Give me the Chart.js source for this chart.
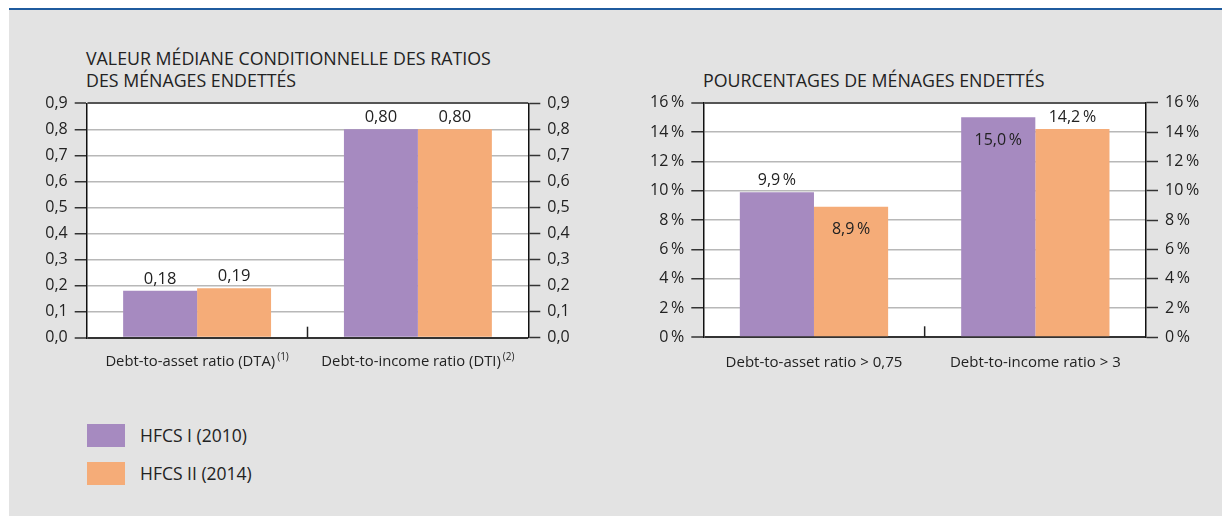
<!DOCTYPE html>
<html><head><meta charset="utf-8">
<script src="https://cdn.jsdelivr.net/npm/chart.js@4/dist/chart.umd.min.js"></script>
<style>
html,body{margin:0;padding:0;background:#fff;width:1222px;height:516px;overflow:hidden;font-family:"Open Sans",sans-serif;color:#222}
#panel{position:absolute;left:9px;top:10px;width:1213px;height:506px;background:#e3e3e3}
#topline{position:absolute;left:9px;top:8px;width:1213px;height:2px;background:#1f5b9e}
.title{position:absolute;font-size:17.8px;line-height:21.5px;color:#222;white-space:nowrap}
#c1{position:absolute;left:0;top:80px;width:610px;height:320px}
#c2{position:absolute;left:610px;top:80px;width:612px;height:320px}
.sw{position:absolute;left:87px;width:38px;height:23px}
.lg{position:absolute;left:140px;font-size:17.5px;line-height:23px;color:#222;white-space:nowrap}
</style></head>
<body>
<div id="panel"></div>
<div id="topline"></div>
<div class="title" style="left:86px;top:48px">VALEUR MÉDIANE CONDITIONNELLE DES RATIOS<br>DES MÉNAGES ENDETTÉS</div>
<div class="title" style="left:703px;top:70px">POURCENTAGES DE MÉNAGES ENDETTÉS</div>
<canvas id="c1" width="610" height="320"></canvas>
<canvas id="c2" width="612" height="320"></canvas>
<div class="sw" id="sw1" style="top:424px"></div>
<div class="lg" id="lg1" style="top:424px"></div>
<div class="sw" id="sw2" style="top:462px"></div>
<div class="lg" id="lg2" style="top:462px"></div>
<script>
// ---- data ----
const seriesNames = ['HFCS I (2010)', 'HFCS II (2014)'];
const leftCategories = ['Debt-to-asset ratio (DTA)', 'Debt-to-income ratio (DTI)'];
const leftNotes = ['(1)', '(2)'];
const leftHFCS1 = [0.18, 0.80];
const leftHFCS2 = [0.19, 0.80];
const rightCategories = ['Debt-to-asset ratio > 0,75', 'Debt-to-income ratio > 3'];
const rightNotes = ['', ''];
const rightHFCS1 = [9.9, 15.0];
const rightHFCS2 = [8.9, 14.2];
const leftAxis = {min: 0, max: 0.9, step: 0.1};
const rightAxis = {min: 0, max: 16, step: 2};

const COL1 = '#a68ac0', COL2 = '#f5ac78';
const FONT = '"Open Sans", sans-serif';

document.getElementById('sw1').style.background = COL1;
document.getElementById('sw2').style.background = COL2;
document.getElementById('lg1').textContent = seriesNames[0];
document.getElementById('lg2').textContent = seriesNames[1];

const plotBg = {
  id: 'plotBg',
  beforeDraw(chart) {
    const a = chart.chartArea, c = chart.ctx;
    c.save(); c.fillStyle = '#fff'; c.fillRect(a.left, a.top, a.right - a.left, a.bottom - a.top); c.restore();
  }
};

const extras = {
  id: 'extras',
  afterDraw(chart, args, opts) {
    const c = chart.ctx, x = chart.scales.x, a = chart.chartArea;
    c.save();
    // middle tick between categories
    const mid = (x.getPixelForTick(0) + x.getPixelForTick(1)) / 2;
    c.strokeStyle = '#222'; c.lineWidth = 1.5;
    c.beginPath(); c.moveTo(mid, a.bottom); c.lineTo(mid, a.bottom - 11); c.stroke();
    // category labels with superscript notes
    c.fillStyle = '#222'; c.textBaseline = 'alphabetic';
    opts.cats.forEach((t, i) => {
      const cx = x.getPixelForTick(i);
      c.font = opts.catFont + 'px ' + FONT;
      const w1 = c.measureText(t).width;
      c.font = '10px ' + FONT;
      const n = opts.notes[i];
      const w2 = n ? c.measureText(n).width + 2 : 0;
      const sx = cx - (w1 + w2) / 2;
      c.font = opts.catFont + 'px ' + FONT; c.textAlign = 'left';
      c.fillText(t, sx, a.bottom + opts.labelOffset);
      if (n) { c.font = '10px ' + FONT; c.fillText(n, sx + w1 + 2, a.bottom + opts.labelOffset - 6); }
    });
    // value labels
    c.font = opts.valueFont + 'px ' + FONT; c.textAlign = 'center';
    chart.data.datasets.forEach((ds, di) => {
      const meta = chart.getDatasetMeta(di);
      meta.data.forEach((bar, i) => {
        const txt = opts.fmt(ds.data[i]);
        if (ds.inside && ds.inside[i]) {
          c.textBaseline = 'top';
          c.fillText(txt, bar.x, bar.y + opts.insideOffset);
        } else {
          c.textBaseline = 'alphabetic';
          c.fillText(txt, bar.x, bar.y - 7);
        }
      });
    });
    c.restore();
  }
};

function makeChart(id, cats, notes, d1, d2, axis, inside1, inside2, fmtTick, fmtVal, dims, tickFont) {
  const gridColor = ctx => (ctx.tick && (ctx.tick.value >= axis.max - 1e-9)) ? '#555' : (ctx.tick && ctx.tick.value === 0 ? '#333' : '#b8b8b8');
  const gridWidth = ctx => (ctx.tick && (ctx.tick.value >= axis.max - 1e-9 || ctx.tick.value === 0)) ? 2 : 1.5;
  const yBase = {
    min: axis.min, max: axis.max,
    border: {display: true, color: '#111', width: 1.5},
    ticks: {stepSize: axis.step, padding: 7, color: '#222', font: {family: FONT, size: tickFont}, callback: v => fmtTick(v)}
  };
  return new Chart(document.getElementById(id), {
    type: 'bar',
    data: {
      labels: cats,
      datasets: [
        {label: seriesNames[0], data: d1, backgroundColor: COL1, inside: inside1},
        {label: seriesNames[1], data: d2, backgroundColor: COL2, inside: inside2}
      ]
    },
    options: {
      responsive: false, animation: false,
      layout: {padding: {top: dims.top, left: 0, right: 0, bottom: 0}},
      datasets: {bar: {categoryPercentage: 0.67, barPercentage: 1.0}},
      plugins: {legend: {display: false}, tooltip: {enabled: false},
        extras: {cats: cats, notes: notes, fmt: fmtVal, valueFont: dims.valueFont, catFont: dims.catFont, insideOffset: dims.insideOffset, labelOffset: dims.labelOffset}},
      scales: {
        x: {type: 'category', offset: true, grid: {display: false}, border: {display: false}, ticks: {display: false},
            afterFit: s => { s.height = dims.xh; }},
        y: Object.assign({}, yBase, {position: 'left',
            grid: {color: gridColor, lineWidth: gridWidth, tickColor: '#333', tickLength: 12, tickWidth: 1.5, drawOnChartArea: true},
            afterFit: s => { s.width = dims.yw; }}),
        y2: Object.assign({}, yBase, {position: 'right',
            grid: {drawOnChartArea: false, tickColor: '#333', tickLength: 12, tickWidth: 1.5},
            afterFit: s => { s.width = dims.y2w; }})
      }
    },
    plugins: [plotBg, extras]
  });
}

const commaFix = (v, n) => v.toFixed(n).replace('.', ',');

makeChart('c1', leftCategories, leftNotes, leftHFCS1, leftHFCS2, leftAxis, [false, false], [false, false],
  v => commaFix(v, 1), v => commaFix(v, 2),
  {top: 23.3, yw: 86.7, y2w: 81.7, xh: 62.3, valueFont: 16.5, catFont: 14.8, insideOffset: 16, labelOffset: 28}, 16);

makeChart('c2', rightCategories, rightNotes, rightHFCS1, rightHFCS2, rightAxis, [false, true], [true, false],
  v => commaFix(v, 0) + '\u2009%', v => commaFix(v, 1) + '\u2009%',
  {top: 22.7, yw: 93.3, y2w: 76, xh: 62.7, valueFont: 16, catFont: 15, insideOffset: 15, labelOffset: 29.5}, 16);
</script>
</body></html>
